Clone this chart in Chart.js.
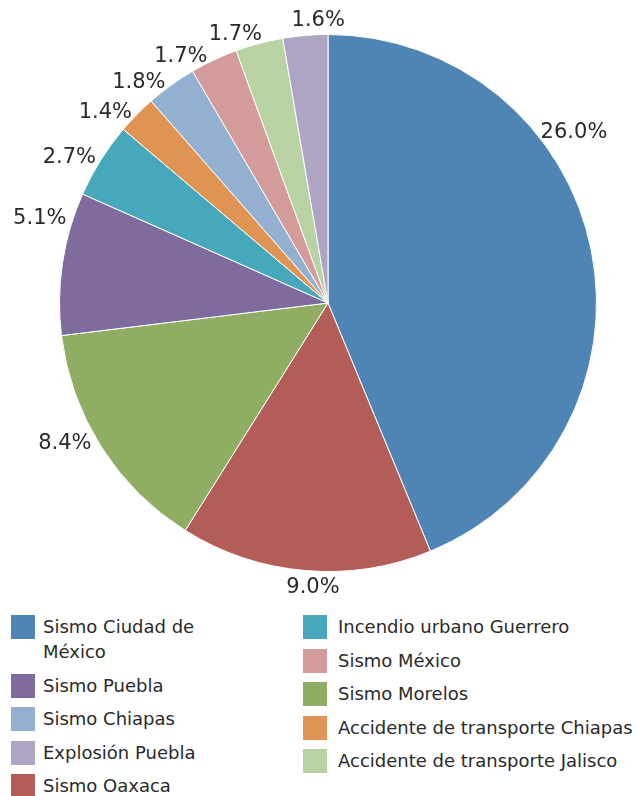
<!DOCTYPE html>
<html>
<head>
<meta charset="utf-8">
<script src="https://cdn.jsdelivr.net/npm/chart.js@4"></script>
<style>
  html, body { margin: 0; padding: 0; background: #fff; }
  body { width: 638px; height: 796px; position: relative; overflow: hidden; font-family: "DejaVu Sans", Verdana, sans-serif; }
  #wrap { position: absolute; left: 0; top: 0; width: 638px; height: 606px; }
  #legend { position: absolute; left: 11px; top: 614px; display: flex; }
  .col { display: flex; flex-direction: column; }
  .col1 { width: 292px; }
  .item { display: flex; align-items: flex-start; margin-bottom: 8.5px; }
  .box { width: 24px; height: 24px; flex: none; margin-top: 1px; }
  .txt { margin-left: 8px; font-size: 18px; line-height: 25px; color: #2a2a2a; }
  .col1 .txt { max-width: 215px; }
  .col2 .txt { margin-left: 11px; }
</style>
</head>
<body>
<div id="wrap"><canvas id="pieChart"></canvas></div>
<div id="legend"></div>
<script>
// slices in drawing order, clockwise from 12 o'clock
const categories = [
  "Sismo Ciudad de México",
  "Sismo Oaxaca",
  "Sismo Morelos",
  "Sismo Puebla",
  "Incendio urbano Guerrero",
  "Accidente de transporte Chiapas",
  "Sismo Chiapas",
  "Sismo México",
  "Accidente de transporte Jalisco",
  "Explosión Puebla"
];
const values = [26.0, 9.0, 8.4, 5.1, 2.7, 1.4, 1.8, 1.7, 1.7, 1.6];
const colors = ["#4e85b4", "#b35d59", "#8fae63", "#7f6b9e", "#48a8bb",
                "#e09453", "#93b0d0", "#d49b9b", "#b8d2a3", "#aea4c4"];

// legend order (two columns)
const legendCol1 = ["Sismo Ciudad de México", "Sismo Puebla", "Sismo Chiapas", "Explosión Puebla", "Sismo Oaxaca"];
const legendCol2 = ["Incendio urbano Guerrero", "Sismo México", "Sismo Morelos", "Accidente de transporte Chiapas", "Accidente de transporte Jalisco"];

// small angular shifts (degrees) for the outside labels
const labelNudge = [-26, -2, 3, 9, -1, -2, -3, -4, -3, 3];

const outsideLabels = {
  id: 'outsideLabels',
  afterDatasetsDraw(chart) {
    const ctx = chart.ctx;
    const meta = chart.getDatasetMeta(0);
    ctx.save();
    ctx.font = '21px "DejaVu Sans", Verdana, sans-serif';
    ctx.fillStyle = '#2a2a2a';
    ctx.textAlign = 'center';
    ctx.textBaseline = 'middle';
    meta.data.forEach((arc, i) => {
      const p = arc.getProps(['x', 'y', 'startAngle', 'endAngle', 'outerRadius']);
      const txt = values[i].toFixed(1) + '%';
      const w = ctx.measureText(txt).width;
      const h = 16;
      const a = (p.startAngle + p.endAngle) / 2 + labelNudge[i] * Math.PI / 180;
      const dx = Math.cos(a), dy = Math.sin(a);
      const r = p.outerRadius + 7;
      const cx = p.x + dx * (r + w / 2);
      const cy = p.y + dy * (r + h / 2);
      ctx.fillText(txt, cx, cy + 1);
    });
    ctx.restore();
  }
};

new Chart(document.getElementById('pieChart'), {
  type: 'pie',
  data: {
    labels: categories,
    datasets: [{
      data: values,
      backgroundColor: colors,
      borderColor: '#ffffff',
      borderWidth: 1
    }]
  },
  options: {
    responsive: true,
    maintainAspectRatio: false,
    animation: false,
    layout: { padding: { top: 34, bottom: 34, left: 59, right: 41 } },
    plugins: {
      legend: { display: false },
      tooltip: { enabled: false }
    }
  },
  plugins: [outsideLabels]
});

const legend = document.getElementById('legend');
[legendCol1, legendCol2].forEach((names, c) => {
  const col = document.createElement('div');
  col.className = 'col col' + (c + 1);
  names.forEach(name => {
    const item = document.createElement('div');
    item.className = 'item';
    const box = document.createElement('div');
    box.className = 'box';
    box.style.background = colors[categories.indexOf(name)];
    const txt = document.createElement('div');
    txt.className = 'txt';
    txt.textContent = name;
    item.appendChild(box);
    item.appendChild(txt);
    col.appendChild(item);
  });
  legend.appendChild(col);
});
</script>
</body>
</html>
